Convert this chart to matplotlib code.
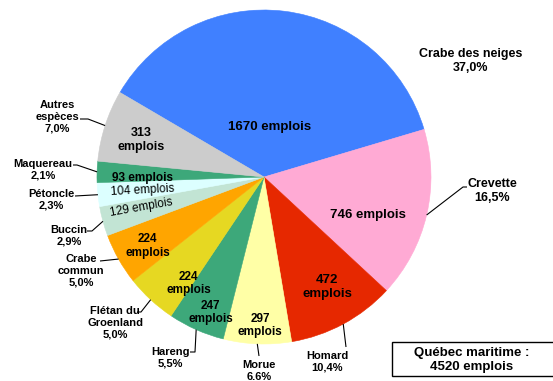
import numpy as np
import matplotlib
matplotlib.use("Agg")
import matplotlib.pyplot as plt
from matplotlib.patches import Rectangle

plt.rcParams["font.family"] = ["Liberation Sans", "DejaVu Sans"]

# Emplois par espèce, Québec maritime
species = ["Crabe des neiges", "Crevette", "Homard", "Morue", "Hareng",
           "Flétan du\nGroenland", "Crabe\ncommun", "Buccin", "Pétoncle",
           "Maquereau", "Autres\nespèces"]
jobs = [1670, 746, 472, 297, 247, 224, 224, 129, 104, 93, 313]
shares = ["37,0%", "16,5%", "10,4%", "6.6%", "5,5%", "5,0%", "5,0%",
          "2,9%", "2,3%", "2,1%", "7,0%"]
total_jobs = 4520

colors = ["#4080FF", "#FFAAD4", "#E62800", "#FFFFA6", "#3DA87A", "#E6D822",
          "#FFA500", "#C2E4D4", "#DCFFFF", "#3DA87A", "#CCCCCC"]

W, H = 553, 381
CX, CY, R = 264, 177, 167
START = 149.6  # angle (deg, counter-clockwise) where the first wedge begins

fig = plt.figure(figsize=(W / 100, H / 100), dpi=100)
ax = fig.add_axes([0, 0, 1, 1])

# y axis runs downwards, so angles are negated and counterclock flips
wedges, _ = ax.pie(jobs, colors=colors, startangle=-START, counterclock=True,
                   center=(CX, CY), radius=R, frame=True)
for w in wedges:
    w.set_edgecolor(w.get_facecolor())
    w.set_linewidth(0.4)
ax.set_xlim(0, W)
ax.set_ylim(H, 0)
ax.set_aspect("equal")
ax.axis("off")

# mid angle of each wedge, measured on screen (counter-clockwise)
frac = np.cumsum([0] + jobs) / sum(jobs) * 360.0
mid = START - (frac[:-1] + frac[1:]) / 2


def at(angle, r):
    a = np.deg2rad(angle)
    return CX + r * np.cos(a), CY - r * np.sin(a)


# labels inside the wedges: (radius fraction, angle shift, two lines, rotation, size, bold)
inner = [(0.30, 0.0, False, 0, 9.5, True),
         (0.66, -7.0, False, 0, 9.5, True),
         (0.76, 1.5, True, 0, 9.5, True),
         (0.89, 0.8, True, 0, 8.5, True),
         (0.87, 2.5, True, 0, 8.5, True),
         (0.78, 7.4, True, 0, 8.5, True),
         (0.81, 1.3, True, 0, 8.5, True),
         (0.76, -1.3, False, 10, 8.5, False),
         (0.73, 0.0, False, 3, 8.5, False),
         (0.73, 2.2, False, 0, 8.5, True),
         (0.77, 1.2, True, 0, 9.0, True)]
for n, ang, (rf, dang, two, rot, fs, bold) in zip(jobs, mid, inner):
    x, y = at(ang + dang, rf * R)
    sep = "\n" if two else " "
    ax.text(x, y, f"{n}{sep}emplois", ha="center", va="center",
            fontsize=fs, fontweight="bold" if bold else "normal",
            rotation=rot, rotation_mode="anchor", linespacing=1.15)

# labels outside: text centre, leader elbows, font size
outer = [((471, 61), [], 9),
         ((492, 191), [(463, 187), (467, 187)], 9),
         ((327, 362), [(346, 347)], 8),
         ((259, 371), [(259, 356)], 8),
         ((170, 358), [(195, 352), (190, 352)], 8),
         ((115, 323), [(141, 312), (137, 312)], 8),
         ((81, 271), [(100, 261)], 8),
         ((69, 236), [(92, 231), (87, 231)], 8),
         ((51, 200), [(75, 196)], 8),
         ((43, 170), [(77, 165), (73, 165)], 8),
         ((57, 117), [(88, 119), (80, 119)], 8)]
for name, pct, ang, (pos, elbows, fs) in zip(species, shares, mid, outer):
    if elbows:
        pts = [at(ang, R)] + elbows
        ax.plot([p[0] for p in pts], [p[1] for p in pts],
                color="black", lw=0.8, solid_capstyle="butt")
    ax.text(pos[0], pos[1], f"{name}\n{pct}", ha="center", va="center",
            fontsize=fs, fontweight="bold", linespacing=1.2)

# total box
ax.add_patch(Rectangle((392, 342), 170, 34, facecolor="white",
                       edgecolor="black", lw=1.0, clip_on=True))
ax.text(472, 360, f"Québec maritime :\n{total_jobs} emplois", ha="center",
        va="center", fontsize=9.5, fontweight="bold", linespacing=1.15)

fig.savefig("out.png", dpi=100)
